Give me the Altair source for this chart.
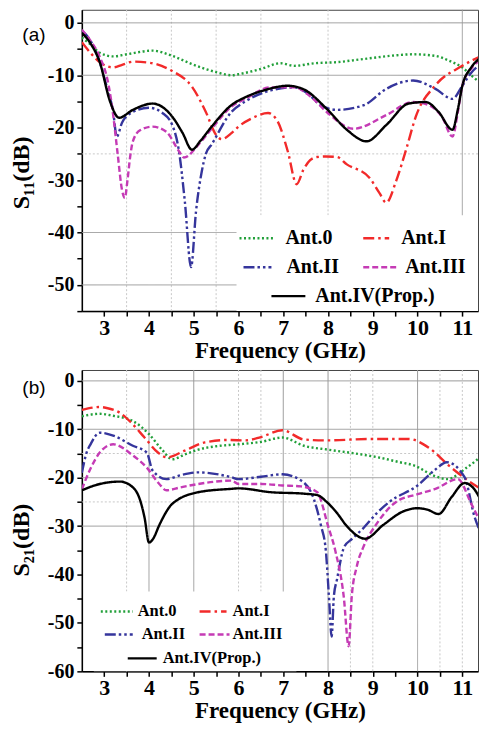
import altair as alt
import pandas as pd

SERIES = ["Ant.0", "Ant.I", "Ant.II", "Ant.III", "Ant.IV(Prop.)"]
COLORS = ["#22a03a", "#f22a2a", "#35359c", "#c53bb5", "#000000"]
DASHES = [[2, 2.5], [11, 4, 2.5, 4], [11, 3, 2.5, 3, 2.5, 3], [6, 3], [1, 0]]

# ---------------- S11 (panel a) ----------------
s11_ant0_f = [2.5, 2.69, 2.9, 3.2, 3.5, 4.08, 4.52, 4.97, 5.5, 5.85, 6.0, 6.5, 6.94, 7.25, 7.7, 8.2, 8.7, 9.08, 9.5, 9.9, 10.4, 10.7, 11.0, 11.25, 11.5]
s11_ant0_db = [-2.8, -4.1, -5.7, -6.4, -6.0, -5.3, -6.3, -7.9, -9.4, -10.0, -9.8, -8.8, -7.7, -8.2, -7.7, -7.5, -7.0, -6.6, -6.2, -6.0, -6.3, -7.2, -8.5, -10.4, -12.0]

s11_ant1_f = [2.5, 2.69, 2.9, 3.2, 3.4, 3.65, 4.0, 4.5, 4.97, 5.27, 5.5, 5.62, 5.85, 6.0, 6.3, 6.66, 6.88, 7.1, 7.3, 7.45, 7.6, 7.75, 7.95, 8.2, 8.42, 8.93, 9.15, 9.3, 9.52, 9.75, 9.96, 10.4, 11.0, 11.5]
s11_ant1_db = [-3.7, -5.7, -7.5, -8.5, -8.0, -7.4, -7.6, -9.1, -12.3, -17.0, -21.4, -22.2, -21.0, -19.8, -18.2, -17.2, -18.9, -24.5, -30.8, -28.0, -26.2, -25.6, -25.5, -25.6, -27.0, -29.6, -32.5, -34.3, -30.2, -24.0, -17.9, -11.9, -8.2, -6.0]

s11_ant2_f = [2.5, 2.7, 2.9, 3.05, 3.2, 3.28, 3.4, 3.64, 4.0, 4.3, 4.52, 4.67, 4.8, 4.94, 5.05, 5.18, 5.27, 5.4, 5.84, 6.15, 6.72, 7.25, 7.55, 7.83, 8.2, 8.8, 9.3, 9.9, 10.4, 10.78, 11.0, 11.2, 11.5]
s11_ant2_db = [-1.5, -3.5, -7.5, -12.0, -17.0, -21.7, -19.0, -17.0, -16.2, -17.2, -19.5, -24.5, -34.0, -46.6, -36.0, -28.3, -25.0, -23.2, -17.0, -15.0, -12.9, -12.3, -13.5, -15.7, -16.6, -15.7, -12.6, -11.0, -12.6, -14.5, -12.0, -9.5, -7.5]

s11_ant3_f = [2.5, 2.7, 2.9, 3.1, 3.2, 3.3, 3.4, 3.46, 3.52, 3.58, 3.64, 3.8, 4.08, 4.39, 4.67, 4.78, 5.11, 5.4, 5.84, 6.15, 6.72, 7.25, 7.6, 7.97, 8.57, 9.3, 9.9, 10.25, 10.55, 10.78, 10.9, 11.0, 11.2, 11.5]
s11_ant3_db = [-1.3, -3.5, -6.5, -12.0, -17.6, -25.0, -32.0, -33.4, -30.0, -25.5, -22.6, -20.5, -19.8, -20.8, -24.5, -25.7, -23.2, -20.2, -16.0, -14.5, -12.3, -12.3, -14.0, -17.0, -20.2, -17.6, -15.1, -15.7, -18.0, -21.7, -17.0, -12.0, -8.7, -6.8]

s11_ant4_f = [2.5, 2.7, 2.9, 3.13, 3.33, 3.64, 4.08, 4.52, 4.75, 4.96, 5.15, 5.4, 5.84, 6.15, 6.6, 7.1, 7.46, 7.97, 8.42, 8.86, 9.3, 9.8, 10.18, 10.47, 10.78, 10.9, 11.0, 11.2, 11.5]
s11_ant4_db = [-1.9, -4.0, -7.5, -15.0, -18.1, -16.6, -15.4, -17.9, -21.0, -24.2, -22.5, -19.8, -15.7, -14.2, -12.8, -12.0, -12.7, -16.4, -20.4, -22.6, -19.5, -15.4, -15.1, -17.0, -20.4, -16.5, -12.0, -8.5, -6.3]

# ---------------- S21 (panel b) ----------------
s21_ant0_f = [2.5, 2.9, 3.2, 3.64, 4.0, 4.3, 4.52, 4.8, 5.1, 5.5, 6.0, 6.5, 6.98, 7.46, 8.0, 8.46, 9.12, 9.6, 9.93, 10.37, 10.66, 11.1, 11.5]
s21_ant0_db = [-7.3, -6.8, -7.2, -8.3, -11.0, -14.3, -16.2, -15.2, -14.2, -13.5, -13.1, -12.6, -11.7, -13.4, -14.2, -14.8, -15.8, -16.8, -17.5, -19.6, -20.3, -17.9, -15.0]

s21_ant1_f = [2.5, 2.9, 3.1, 3.35, 3.6, 3.9, 4.2, 4.4, 4.8, 5.25, 5.8, 6.15, 6.5, 6.98, 7.46, 7.97, 8.93, 9.8, 10.25, 10.7, 11.13, 11.5]
s21_ant1_db = [-6.0, -5.4, -5.7, -6.6, -8.6, -11.7, -14.8, -15.8, -14.4, -12.7, -12.2, -12.3, -11.6, -10.2, -12.1, -12.3, -12.0, -12.0, -13.8, -17.5, -20.6, -22.8]

s21_ant2_f = [2.5, 2.6, 2.7, 2.9, 3.2, 3.64, 3.95, 4.08, 4.39, 4.7, 5.1, 5.84, 6.0, 6.5, 6.98, 7.4, 7.69, 7.84, 7.95, 8.02, 8.08, 8.13, 8.2, 8.36, 8.53, 8.78, 9.08, 9.37, 10.0, 10.4, 10.65, 11.05, 11.27, 11.5]
s21_ant2_db = [-19.0, -15.0, -13.0, -10.7, -11.3, -13.4, -14.8, -18.5, -20.3, -19.5, -18.9, -19.9, -20.3, -19.8, -19.3, -20.6, -24.6, -29.8, -35.0, -44.5, -52.8, -44.5, -41.0, -34.3, -32.7, -30.5, -27.4, -25.0, -21.6, -18.3, -16.8, -19.9, -28.0, -33.0]

s21_ant3_f = [2.5, 2.7, 2.9, 3.2, 3.64, 3.95, 4.23, 4.39, 4.7, 5.1, 5.84, 6.0, 6.5, 6.98, 7.4, 7.76, 7.9, 7.97, 8.16, 8.35, 8.46, 8.53, 8.64, 8.79, 9.08, 9.52, 10.0, 10.4, 10.9, 11.2, 11.5]
s21_ant3_db = [-22.4, -18.0, -14.8, -13.1, -15.4, -17.9, -21.3, -22.6, -22.0, -21.3, -20.6, -21.3, -21.3, -21.6, -21.8, -23.0, -26.5, -29.0, -35.0, -44.5, -54.8, -44.5, -38.4, -34.3, -29.6, -25.0, -23.4, -22.3, -20.3, -25.4, -31.0]

s21_ant4_f = [2.5, 2.9, 3.35, 3.64, 3.8, 3.9, 4.0, 4.1, 4.23, 4.52, 5.1, 5.84, 6.0, 6.73, 7.46, 7.76, 7.97, 8.2, 8.42, 8.83, 9.24, 9.67, 10.0, 10.22, 10.47, 10.76, 11.05, 11.27, 11.5]
s21_ant4_db = [-22.6, -21.3, -20.8, -22.0, -24.6, -28.2, -33.4, -32.5, -29.8, -25.4, -23.0, -22.3, -22.2, -23.0, -23.3, -23.6, -25.0, -27.3, -30.0, -32.6, -29.7, -27.0, -26.3, -26.6, -27.5, -24.0, -21.1, -22.4, -26.5]

# grid lines seen in the reference
a_grid_solid_h = [0, -10, -40, -50]
a_grid_dot_h = [-25]
a_grid_solid_v = [11]
a_grid_dot_v = [3.5, 4.5, 5.5, 6.5, 8]
b_grid_solid_h = [0, -10, -20, -30]
b_grid_dot_h = [-15, -25]
b_grid_solid_v = [4, 5, 7, 8, 10]
b_grid_dot_v = [3.5, 6, 6.5, 8.5, 9, 10.5, 11]

x_ticks = [3, 3.5, 4, 4.5, 5, 5.5, 6, 6.5, 7, 7.5, 8, 8.5, 9, 9.5, 10, 10.5, 11]
a_y_ticks = [0, -5, -10, -15, -20, -25, -30, -35, -40, -45, -50, -55]
b_y_ticks = [0, -5, -10, -15, -20, -25, -30, -35, -40, -45, -50, -55, -60]

# legend layout (pixels inside each plot): symbol x-start, x-end, label x, row y
LEG_A = {"box": (155, 397, 206, 302), "font": 20,
         "items": [(158, 193, 204, 229), (282, 308, 320, 229),
                   (162, 190, 205, 258), (282, 316, 324, 258),
                   (190, 224, 234, 287)]}
LEG_B = {"box": (12, 215, 222, 302), "font": 16.5,
         "items": [(19, 51, 56, 242), (118, 145, 151, 242),
                   (23, 51, 60, 265), (118, 148, 151, 265),
                   (46, 75, 81, 289)]}


def build(arrs):
    rows = []
    for name, (fs, ds) in zip(SERIES, arrs):
        for f, d in zip(fs, ds):
            rows.append({"series": name, "f": f, "db": d})
    return pd.DataFrame(rows)


df_a = build([(s11_ant0_f, s11_ant0_db), (s11_ant1_f, s11_ant1_db), (s11_ant2_f, s11_ant2_db),
              (s11_ant3_f, s11_ant3_db), (s11_ant4_f, s11_ant4_db)])
df_b = build([(s21_ant0_f, s21_ant0_db), (s21_ant1_f, s21_ant1_db), (s21_ant2_f, s21_ant2_db),
              (s21_ant3_f, s21_ant3_db), (s21_ant4_f, s21_ant4_db)])

W = 397
H = 302
XDOM = [2.5, 11.35]
SERIF = "Liberation Serif"
ONE = pd.DataFrame({"k": [0]})


def legend_layers(leg):
    x0, x1, y0, y1 = leg["box"]
    out = [alt.Chart(ONE).mark_rect(color="white").encode(
        x=alt.value(x0), x2=alt.value(x1), y=alt.value(y0), y2=alt.value(y1))]
    for i, (sx0, sx1, tx, ty) in enumerate(leg["items"]):
        out.append(alt.Chart(ONE).mark_rule(color=COLORS[i], strokeDash=DASHES[i], strokeWidth=2.4).encode(
            x=alt.value(sx0), x2=alt.value(sx1), y=alt.value(ty)))
        out.append(alt.Chart(pd.DataFrame({"t": [SERIES[i]]})).mark_text(
            font=SERIF, fontWeight="bold", fontSize=leg["font"], align="left", baseline="middle",
            color="black").encode(text="t:N", x=alt.value(tx), y=alt.value(ty)))
    return out


def panel(df, ydom, yticks, ytitle, title_y, gsh, gdh, gsv, gdv, leg, tag, tag_y):
    xs = alt.Scale(domain=XDOM, nice=False, zero=False)
    ys = alt.Scale(domain=ydom, nice=False, zero=False)
    xaxis = alt.Axis(values=x_ticks, labelExpr="datum.value % 1 == 0 ? '' + datum.value : ''",
                     title="Frequency (GHz)", labelFontSize=22, titleFontSize=23,
                     tickSize=5, labelPadding=1, titlePadding=1, labelFlush=False)
    yaxis = alt.Axis(values=yticks, labelExpr="datum.value % 10 == 0 ? '' + datum.value : ''",
                     title=ytitle, labelFontSize=20, titleFontSize=24, tickSize=5,
                     labelPadding=3, titlePadding=14, titleY=title_y)

    def hrule(vals, dash, color):
        return alt.Chart(pd.DataFrame({"v": vals})).mark_rule(
            color=color, strokeWidth=1, strokeDash=dash).encode(
            y=alt.Y("v:Q", scale=ys, axis=yaxis))

    def vrule(vals, dash, color):
        return alt.Chart(pd.DataFrame({"v": vals})).mark_rule(
            color=color, strokeWidth=1, strokeDash=dash).encode(
            x=alt.X("v:Q", scale=xs, axis=xaxis))

    grid = [hrule(gdh, [2, 2], "#c8c8c8"), vrule(gdv, [2, 2], "#c8c8c8"),
            hrule(gsh, [1, 0], "#9a9a9a"), vrule(gsv, [1, 0], "#9a9a9a")]

    lines = alt.Chart(df).mark_line(strokeWidth=2.4, interpolate="monotone", clip=True).encode(
        x=alt.X("f:Q", scale=xs, axis=xaxis),
        y=alt.Y("db:Q", scale=ys, axis=yaxis),
        color=alt.Color("series:N", scale=alt.Scale(domain=SERIES, range=COLORS), legend=None),
        strokeDash=alt.StrokeDash("series:N", scale=alt.Scale(domain=SERIES, range=DASHES), legend=None),
    )

    tag_layer = alt.Chart(pd.DataFrame({"t": [tag]})).mark_text(
        font="Liberation Sans", fontSize=19, align="center", baseline="middle", color="black"
    ).encode(text="t:N", x=alt.value(-48), y=alt.value(tag_y))

    return alt.layer(*grid, *legend_layers(leg), lines, tag_layer).properties(width=W, height=H)


top = panel(df_a, [-55, 2.5], a_y_ticks, "S₁₁(dB)", 163,
            a_grid_solid_h, a_grid_dot_h, a_grid_solid_v, a_grid_dot_v, LEG_A, "(a)", 25)
bottom = panel(df_b, [-60, 2.25], b_y_ticks, "S₂₁(dB)", 170,
               b_grid_solid_h, b_grid_dot_h, b_grid_solid_v, b_grid_dot_v, LEG_B, "(b)", 18)

chart = alt.vconcat(top, bottom, spacing=6).resolve_scale(
    color="independent", strokeDash="independent", x="independent", y="independent"
).properties(
    padding={"left": 0, "top": 0, "right": 0, "bottom": 0}, background="white"
).configure_view(stroke="#444", strokeWidth=1).configure_axis(
    domainColor="black", domainWidth=1.5, tickColor="black", tickWidth=1.5,
    labelFont=SERIF, labelFontWeight="bold", labelColor="black",
    titleFont=SERIF, titleFontWeight="bold", titleColor="black", grid=False
)

chart.save("out.html", embed_options={"renderer": "svg", "actions": False})
